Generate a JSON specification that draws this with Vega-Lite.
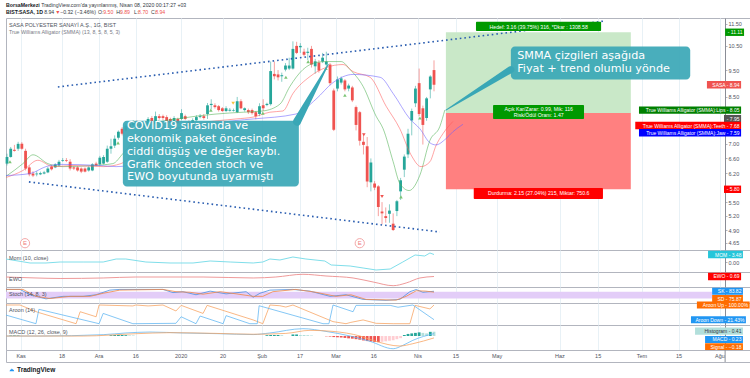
{"$schema":"https://vega.github.io/schema/vega-lite/v6.json","padding":{"left":3,"top":2,"right":0,"bottom":0},"background":"#ffffff","spacing":0,"bounds":"flush","config":{"font":"Liberation Sans","view":{"stroke":"#b2b5be","strokeWidth":1}},
"datasets":{"candles":[{"t":0,"o":6.45,"h":6.72,"l":6.4,"c":6.63},{"t":1,"o":6.63,"h":6.91,"l":6.61,"c":6.86},{"t":2,"o":6.83,"h":6.97,"l":6.78,"c":6.8},{"t":3,"o":6.86,"h":7.06,"l":6.8,"c":7},{"t":4,"o":7,"h":7.05,"l":6.83,"c":6.86},{"t":5,"o":6.8,"h":6.86,"l":6.27,"c":6.32},{"t":6,"o":6.35,"h":6.4,"l":6.12,"c":6.17},{"t":7,"o":6.19,"h":6.25,"l":6.1,"c":6.14},{"t":8,"o":6.17,"h":6.25,"l":6.12,"c":6.19},{"t":9,"o":6.17,"h":6.24,"l":6.15,"c":6.2},{"t":10,"o":6.19,"h":6.26,"l":6.17,"c":6.22},{"t":11,"o":6.22,"h":6.36,"l":6.2,"c":6.32},{"t":12,"o":6.37,"h":6.42,"l":6.27,"c":6.3},{"t":13,"o":6.35,"h":6.46,"l":6.33,"c":6.43},{"t":14,"o":6.4,"h":6.55,"l":6.38,"c":6.5},{"t":15,"o":6.52,"h":6.6,"l":6.5,"c":6.54},{"t":16,"o":6.54,"h":6.6,"l":6.49,"c":6.52},{"t":17,"o":6.5,"h":6.57,"l":6.27,"c":6.32},{"t":18,"o":6.35,"h":6.38,"l":6.28,"c":6.32},{"t":19,"o":6.35,"h":6.38,"l":6.24,"c":6.27},{"t":20,"o":6.32,"h":6.35,"l":6.2,"c":6.24},{"t":21,"o":6.32,"h":6.35,"l":6.22,"c":6.24},{"t":22,"o":6.27,"h":6.38,"l":6.24,"c":6.35},{"t":23,"o":6.27,"h":6.46,"l":6.25,"c":6.43},{"t":24,"o":6.45,"h":6.5,"l":6.38,"c":6.4},{"t":25,"o":6.43,"h":6.66,"l":6.4,"c":6.61},{"t":26,"o":6.45,"h":6.68,"l":6.43,"c":6.63},{"t":27,"o":6.5,"h":6.95,"l":6.47,"c":6.86},{"t":28,"o":6.86,"h":7.15,"l":6.72,"c":6.93},{"t":29,"o":6.95,"h":7.25,"l":6.88,"c":7.15},{"t":30,"o":7.18,"h":7.4,"l":7.12,"c":7.36},{"t":31,"o":7.45,"h":7.5,"l":7.25,"c":7.3},{"t":32,"o":7.4,"h":7.62,"l":7.36,"c":7.55},{"t":33,"o":7.6,"h":7.66,"l":7.44,"c":7.48},{"t":34,"o":7.56,"h":7.72,"l":7.52,"c":7.69},{"t":35,"o":7.66,"h":7.72,"l":7.5,"c":7.54},{"t":36,"o":7.6,"h":7.65,"l":7.42,"c":7.45},{"t":37,"o":7.51,"h":7.68,"l":7.48,"c":7.63},{"t":38,"o":7.54,"h":7.82,"l":7.5,"c":7.76},{"t":39,"o":7.79,"h":7.85,"l":7.6,"c":7.63},{"t":40,"o":7.6,"h":8,"l":7.57,"c":7.85},{"t":41,"o":7.85,"h":7.92,"l":7.74,"c":7.79},{"t":42,"o":7.85,"h":7.9,"l":7.72,"c":7.79},{"t":43,"o":7.82,"h":7.88,"l":7.58,"c":7.63},{"t":44,"o":7.76,"h":7.8,"l":7.6,"c":7.63},{"t":45,"o":7.69,"h":7.85,"l":7.65,"c":7.79},{"t":46,"o":7.76,"h":7.8,"l":7.6,"c":7.63},{"t":47,"o":7.76,"h":8.08,"l":7.72,"c":7.95},{"t":48,"o":7.85,"h":7.9,"l":7.72,"c":7.76},{"t":49,"o":7.66,"h":7.72,"l":7.48,"c":7.54},{"t":50,"o":7.6,"h":7.78,"l":7.55,"c":7.72},{"t":51,"o":7.72,"h":7.88,"l":7.68,"c":7.82},{"t":52,"o":7.82,"h":7.92,"l":7.78,"c":7.85},{"t":53,"o":7.85,"h":7.92,"l":7.74,"c":7.79},{"t":54,"o":7.92,"h":8.29,"l":7.76,"c":8.21},{"t":55,"o":8.22,"h":8.42,"l":8.08,"c":8.26},{"t":56,"o":8.21,"h":8.28,"l":8.1,"c":8.15},{"t":57,"o":8.18,"h":8.22,"l":8,"c":8.05},{"t":58,"o":8.11,"h":8.15,"l":7.98,"c":8.02},{"t":59,"o":8.02,"h":8.18,"l":7.98,"c":8.11},{"t":60,"o":8.03,"h":8.12,"l":8,"c":8.06},{"t":61,"o":8.03,"h":8.1,"l":8,"c":8.05},{"t":62,"o":7.98,"h":8.5,"l":7.95,"c":8.35},{"t":63,"o":8.35,"h":8.42,"l":8.08,"c":8.11},{"t":64,"o":8.05,"h":8.14,"l":8,"c":8.11},{"t":65,"o":8.05,"h":8.1,"l":7.92,"c":7.98},{"t":66,"o":8.05,"h":8.1,"l":7.9,"c":7.95},{"t":67,"o":7.98,"h":8.02,"l":7.75,"c":7.85},{"t":68,"o":7.92,"h":8.28,"l":7.85,"c":8.18},{"t":69,"o":8.21,"h":8.42,"l":8.02,"c":8.11},{"t":70,"o":8.22,"h":8.3,"l":8.18,"c":8.26},{"t":71,"o":8.25,"h":9.84,"l":8.2,"c":9.46},{"t":72,"o":9.35,"h":9.84,"l":9.14,"c":9.26},{"t":73,"o":9.33,"h":9.5,"l":9.1,"c":9.22},{"t":74,"o":9.26,"h":9.4,"l":9.05,"c":9.3},{"t":75,"o":9.52,"h":9.78,"l":9.45,"c":9.68},{"t":76,"o":9.56,"h":10,"l":9.5,"c":9.68},{"t":77,"o":9.56,"h":10.7,"l":9.52,"c":10.37},{"t":78,"o":10.5,"h":10.68,"l":10.15,"c":10.2},{"t":79,"o":10.44,"h":10.62,"l":10.2,"c":10.5},{"t":80,"o":10.25,"h":10.38,"l":10.05,"c":10.12},{"t":81,"o":10.2,"h":10.42,"l":9.9,"c":10.25},{"t":82,"o":10.37,"h":10.5,"l":9.6,"c":9.72},{"t":83,"o":9.65,"h":9.95,"l":9.36,"c":9.85},{"t":84,"o":9.8,"h":9.9,"l":9.4,"c":9.48},{"t":85,"o":9.84,"h":10.2,"l":9.78,"c":10},{"t":86,"o":9.72,"h":10.25,"l":9.62,"c":9.84},{"t":87,"o":9.72,"h":9.78,"l":8.92,"c":9},{"t":88,"o":8.73,"h":8.8,"l":7.38,"c":7.42},{"t":89,"o":8.8,"h":9.25,"l":8.7,"c":9.14},{"t":90,"o":9.02,"h":9.25,"l":8.95,"c":9.18},{"t":91,"o":9.1,"h":9.15,"l":8.7,"c":8.77},{"t":92,"o":8.8,"h":8.98,"l":8.7,"c":8.91},{"t":93,"o":8.84,"h":8.9,"l":8.32,"c":8.38},{"t":94,"o":8.15,"h":8.2,"l":7.4,"c":7.57},{"t":95,"o":7.98,"h":8.02,"l":6.95,"c":7.09},{"t":96,"o":7.06,"h":7.3,"l":6.7,"c":6.97},{"t":97,"o":6.93,"h":7.2,"l":5.85,"c":5.99},{"t":98,"o":5.97,"h":6.59,"l":5.75,"c":6.48},{"t":99,"o":5.94,"h":6,"l":5.78,"c":5.84},{"t":100,"o":5.87,"h":5.9,"l":5.19,"c":5.39},{"t":101,"o":5.29,"h":5.5,"l":5.02,"c":5.25},{"t":102,"o":5.19,"h":5.38,"l":5.05,"c":5.15},{"t":103,"o":5.24,"h":5.45,"l":5.05,"c":5.31},{"t":104,"o":5.03,"h":5.25,"l":4.88,"c":4.9},{"t":105,"o":5.3,"h":5.55,"l":5.19,"c":5.52},{"t":106,"o":5.75,"h":6.08,"l":5.55,"c":6.02},{"t":107,"o":6.29,"h":6.7,"l":6.1,"c":6.64},{"t":108,"o":6.7,"h":7.45,"l":6.6,"c":7.3},{"t":109,"o":7.71,"h":8.1,"l":7.25,"c":8.02},{"t":110,"o":8.28,"h":8.9,"l":8.15,"c":8.8},{"t":111,"o":9,"h":9.56,"l":7.85,"c":7.92},{"t":112,"o":8.11,"h":8.2,"l":6.98,"c":7.57},{"t":113,"o":7.79,"h":8.5,"l":7.7,"c":8.45},{"t":114,"o":8.77,"h":9.3,"l":8.45,"c":9.25},{"t":115,"o":9.5,"h":9.89,"l":8.7,"c":8.94}],
"alligator":[{"s":"Lips","t":-0.27,"p":6.12},{"s":"Lips","t":4.3,"p":6.45},{"s":"Lips","t":7,"p":6.69},{"s":"Lips","t":11,"p":6.45},{"s":"Lips","t":15.1,"p":6.37},{"s":"Lips","t":23.2,"p":6.4},{"s":"Lips","t":28.5,"p":6.45},{"s":"Lips","t":31.2,"p":6.72},{"s":"Lips","t":34.7,"p":7.15},{"s":"Lips","t":39.3,"p":7.6},{"s":"Lips","t":47.4,"p":7.79},{"s":"Lips","t":56.3,"p":7.92},{"s":"Lips","t":63.6,"p":7.98},{"s":"Lips","t":68.9,"p":8.02},{"s":"Lips","t":73.5,"p":8.25},{"s":"Lips","t":76.2,"p":8.88},{"s":"Lips","t":79.7,"p":9.52},{"s":"Lips","t":83.2,"p":9.8},{"s":"Lips","t":85.9,"p":9.84},{"s":"Lips","t":90,"p":9.84},{"s":"Lips","t":92.4,"p":9.52},{"s":"Lips","t":95.9,"p":8.88},{"s":"Lips","t":99.4,"p":7.85},{"s":"Lips","t":101.3,"p":7.45},{"s":"Lips","t":104,"p":6.5},{"s":"Lips","t":105.8,"p":5.94},{"s":"Lips","t":108.3,"p":5.77},{"s":"Lips","t":111.2,"p":6.15},{"s":"Lips","t":113.9,"p":7.1},{"s":"Lips","t":116.6,"p":7.53},{"s":"Lips","t":117.9,"p":8.05},
{"s":"Teeth","t":-0.27,"p":6.09},{"s":"Teeth","t":4.3,"p":6.27},{"s":"Teeth","t":8.3,"p":6.54},{"s":"Teeth","t":12.4,"p":6.37},{"s":"Teeth","t":17.8,"p":6.4},{"s":"Teeth","t":25.9,"p":6.37},{"s":"Teeth","t":30.7,"p":6.45},{"s":"Teeth","t":35.3,"p":6.86},{"s":"Teeth","t":42,"p":7.3},{"s":"Teeth","t":52.8,"p":7.64},{"s":"Teeth","t":61.7,"p":7.76},{"s":"Teeth","t":66.3,"p":7.82},{"s":"Teeth","t":70.8,"p":7.98},{"s":"Teeth","t":74.3,"p":8.02},{"s":"Teeth","t":77,"p":8.62},{"s":"Teeth","t":81.6,"p":9.25},{"s":"Teeth","t":85.9,"p":9.6},{"s":"Teeth","t":90.5,"p":9.72},{"s":"Teeth","t":93.2,"p":9.44},{"s":"Teeth","t":97.8,"p":9.22},{"s":"Teeth","t":102.1,"p":8.18},{"s":"Teeth","t":105.8,"p":7.45},{"s":"Teeth","t":108.8,"p":6.69},{"s":"Teeth","t":111.5,"p":6.37},{"s":"Teeth","t":113.9,"p":6.5},{"s":"Teeth","t":115.5,"p":6.94},{"s":"Teeth","t":117.4,"p":7.3},{"s":"Teeth","t":120.1,"p":7.68},
{"s":"Jaw","t":-0.27,"p":6.14},{"s":"Jaw","t":6.2,"p":6.19},{"s":"Jaw","t":10.5,"p":6.37},{"s":"Jaw","t":14.3,"p":6.43},{"s":"Jaw","t":25,"p":6.4},{"s":"Jaw","t":29.4,"p":6.37},{"s":"Jaw","t":32.6,"p":6.4},{"s":"Jaw","t":40.1,"p":7},{"s":"Jaw","t":45.5,"p":7.33},{"s":"Jaw","t":61.7,"p":7.71},{"s":"Jaw","t":66.3,"p":7.76},{"s":"Jaw","t":77.8,"p":7.92},{"s":"Jaw","t":83.2,"p":8.42},{"s":"Jaw","t":87.8,"p":9.02},{"s":"Jaw","t":93.2,"p":9.33},{"s":"Jaw","t":100.5,"p":9.22},{"s":"Jaw","t":104,"p":8.62},{"s":"Jaw","t":108.5,"p":7.76},{"s":"Jaw","t":111.2,"p":7.45},{"s":"Jaw","t":113.9,"p":7.03},{"s":"Jaw","t":115.5,"p":6.97},{"s":"Jaw","t":118.2,"p":7.15},{"s":"Jaw","t":120.1,"p":7.36},{"s":"Jaw","t":122.8,"p":7.59}]},
"vconcat":[
{"width":744,"height":232,"resolve":{"scale":{"color":"independent","size":"independent"}},
"encoding":{"x":{"field":"t","type":"quantitative","scale":{"domain":[-0.27,200.1],"nice":false,"zero":false,"padding":0},"axis":{"values":[3.8,14.8,24.8,34.7,46.9,58.2,68.7,78.9,88.6,98.8,110.7,120.9,132,148.9,159.2,171,181,192],"labels":false,"ticks":false,"domain":false,"title":null,"grid":true,"gridColor":"#e8f1f6"}},
"y":{"field":"p","type":"quantitative","scale":{"type":"log","domain":[4.511,11.785],"nice":false},"axis":{"orient":"right","offset":-25,"values":[4.65,4.9,5.2,5.5,6.2,6.6,7,8.5,9.5,10.5,11.5],"format":".2f","title":null,"grid":false,"labelFontSize":5.5,"labelColor":"#50535e","tickColor":"#b2b5be","tickSize":2,"labelPadding":1,"domainColor":"#8a8d96","labelOverlap":false}}},
"layer":[
{"data":{"values":[{"p":4.65},{"p":4.9},{"p":5.2},{"p":5.5},{"p":5.8},{"p":6.2},{"p":6.6},{"p":7},{"p":7.5},{"p":8},{"p":8.5},{"p":9.5},{"p":10.5},{"p":11.5}]},"mark":{"type":"rule","color":"#e8f1f6","strokeWidth":1},"encoding":{"x":{"datum":-0.27},"x2":{"datum":193.4}}},
{"data":{"values":[{"p":8.94}]},"mark":{"type":"rule","color":"#ef5350","strokeWidth":3,"opacity":0.13},"encoding":{"x":{"datum":-0.27},"x2":{"datum":188.5}}},
{"data":{"values":[{"zone":"Hedef","t":118.2,"t2":168,"p":11.11,"p2":7.95},{"zone":"Durdurma","t":118.2,"t2":168,"p":7.95,"p2":5.8}]},"mark":{"type":"rect"},"encoding":{"x2":{"field":"t2"},"y2":{"field":"p2"},"color":{"field":"zone","type":"nominal","scale":{"domain":["Hedef","Durdurma"],"range":["#c9e8c8","#ff8080"]},"legend":null}}},
{"data":{"name":"candles"},"mark":{"type":"rule","strokeWidth":1,"opacity":0.55},"encoding":{"y":{"field":"h","type":"quantitative","scale":{"type":"log","domain":[4.511,11.785],"nice":false},"axis":{"orient":"right","offset":-25,"values":[4.65,4.9,5.2,5.5,6.2,6.6,7,8.5,9.5,10.5,11.5],"format":".2f","title":null,"grid":false,"labelFontSize":5.5,"labelColor":"#50535e","tickColor":"#b2b5be","tickSize":2,"labelPadding":1,"domainColor":"#8a8d96","labelOverlap":false}},"y2":{"field":"l"},"color":{"condition":{"test":"datum.c>=datum.o","value":"#26a69a"},"value":"#ef5350"}}},
{"data":{"name":"candles"},"mark":{"type":"bar","size":2.8},"encoding":{"y":{"field":"o","type":"quantitative","scale":{"type":"log","domain":[4.511,11.785],"nice":false},"axis":{"orient":"right","offset":-25,"values":[4.65,4.9,5.2,5.5,6.2,6.6,7,8.5,9.5,10.5,11.5],"format":".2f","title":null,"grid":false,"labelFontSize":5.5,"labelColor":"#50535e","tickColor":"#b2b5be","tickSize":2,"labelPadding":1,"domainColor":"#8a8d96","labelOverlap":false}},"y2":{"field":"c"},"color":{"condition":{"test":"datum.c>=datum.o","value":"#26a69a"},"value":"#ef5350"}}},
{"data":{"name":"alligator"},"mark":{"type":"line","strokeWidth":1,"opacity":0.55,"interpolate":"monotone"},"encoding":{"color":{"field":"s","type":"nominal","scale":{"domain":["Lips","Teeth","Jaw"],"range":["#4caf50","#ff5a5a","#6a5cff"]},"legend":null}}},
{"data":{"values":[{"name":"ust","t":13.7,"p":8.86},{"name":"ust","t":161,"p":11.64}]},"mark":{"type":"line","color":"#2a5db0","strokeWidth":1.6,"strokeDash":[1.6,3]},"encoding":{"detail":{"field":"name"}}},
{"data":{"values":[{"name":"alt","t":5.9,"p":5.98},{"name":"alt","t":116.6,"p":4.86}]},"mark":{"type":"line","color":"#2a5db0","strokeWidth":1.6,"strokeDash":[1.6,3]},"encoding":{"detail":{"field":"name"}}},
{"data":{"values":[{"kind":"up","t":0.8,"p":6.5},{"kind":"up","t":29.9,"p":7.03},{"kind":"up","t":40.9,"p":7.67},{"kind":"up","t":54.9,"p":8.05},{"kind":"up","t":68.9,"p":7.95},{"kind":"up","t":75.1,"p":9.22},{"kind":"up","t":81.1,"p":9.84},{"kind":"up","t":85.9,"p":9.56},{"kind":"up","t":91,"p":8.56},{"kind":"up","t":111.2,"p":7.79},{"kind":"up","t":106.1,"p":5.62}]},"mark":{"type":"point","shape":"triangle-up","filled":true,"size":13,"color":"#7cc576","opacity":1}},
{"data":{"values":[{"t":60.9,"p":8.28}]},"mark":{"type":"point","shape":"triangle-down","filled":true,"size":13,"color":"#f5c542","opacity":1}},
{"data":{"values":[{"t":96.1,"p":7.27},{"t":101,"p":5.63}]},"mark":{"type":"point","shape":"triangle-down","filled":true,"size":13,"color":"#ef5350","opacity":1}},
{"data":{"values":[{"t":4.85,"p":4.64},{"t":95,"p":4.64}]},"mark":{"type":"point","shape":"circle","filled":true,"size":85,"fill":"#ffffff","stroke":"#f4a9a9","strokeWidth":1,"opacity":1}},
{"data":{"values":[{"t":4.85,"p":4.64,"label":"E"},{"t":95,"p":4.64,"label":"E"}]},"mark":{"type":"text","fontSize":6,"color":"#ef7d7d"},"encoding":{"text":{"field":"label"}}},
{"data":{"values":[{"name":"a","t":78.1,"p":7.67,"w":8},{"name":"a","t":86.5,"p":9.72,"w":1}]},"mark":{"type":"trail","color":"#39a7b6"},"encoding":{"detail":{"field":"name"},"size":{"field":"w","type":"quantitative","scale":{"domain":[0,8],"range":[0,8]},"legend":null}}},
{"data":{"values":[{"name":"b","t":135.7,"p":9.52,"w":7},{"name":"b","t":118.2,"p":8.05,"w":1}]},"mark":{"type":"trail","color":"#39a7b6"},"encoding":{"detail":{"field":"name"},"size":{"field":"w","type":"quantitative","scale":{"domain":[0,8],"range":[0,8]},"legend":null}}},
{"data":{"values":[{"t":31.2,"t2":78.6,"p":7.7,"p2":5.87},{"t":135.7,"t2":184,"p":10.47,"p2":9.14}]},"mark":{"type":"rect","color":"#39a7b6","opacity":0.92,"cornerRadius":4},"encoding":{"x2":{"field":"t2"},"y2":{"field":"p2"}}},
{"data":{"values":[{"t":32.3,"p":7.54,"label":"COVID19 sırasında ve"},{"t":32.3,"p":7.15,"label":"ekonomik paket öncesinde"},{"t":32.3,"p":6.78,"label":"ciddi düşüş ve değer kaybı."},{"t":32.3,"p":6.42,"label":"Grafik önceden stoch ve"},{"t":32.3,"p":6.09,"label":"EWO boyutunda uyarmıştı"},{"t":137.4,"p":10.05,"label":"SMMA çizgileri aşağıda"},{"t":137.4,"p":9.55,"label":"Fiyat + trend olumlu yönde"}]},"mark":{"type":"text","font":"DejaVu Sans","fontSize":11.2,"align":"left","color":"#ffffff"},"encoding":{"text":{"field":"label"}}},
{"data":{"values":[{"label":"Hedef","t":126.3,"t2":160,"p":11.6,"p2":11.17},{"label":"Kar","t":130.9,"t2":155.4,"p":8.22,"p2":7.76},{"label":"Durdurma","t":125.7,"t2":160.5,"p":5.83,"p2":5.57}]},"mark":{"type":"rect","cornerRadius":1},"encoding":{"x2":{"field":"t2"},"y2":{"field":"p2"},"color":{"field":"label","type":"nominal","scale":{"domain":["Hedef","Kar","Durdurma"],"range":["#009900","#009900","#ff0000"]},"legend":null}}},
{"data":{"values":[{"t":143.2,"p":11.36,"label":"Hedef: 3.16 (39.75%) 316, *Dkar : 1308.58"},{"t":143.2,"p":8.08,"label":"Açık Kar/Zarar: 0.99, Mik: 116"},{"t":143.2,"p":7.88,"label":"Risk/Ödül Oranı: 1.47"},{"t":143.2,"p":5.71,"label":"Durdurma: 2.15 (27.04%) 215, Miktar: 750.6"}]},"mark":{"type":"text","fontSize":5.2,"color":"#ffffff"},"encoding":{"text":{"field":"label"}}},
{"data":{"values":[{"label":"SASA","t":188.5,"t2":197.7,"p":8.94},{"label":"Hedef","t":193.4,"t2":198.5,"p":11.11},{"label":"Lips","t":170.2,"t2":197.7,"p":8.05},{"label":"Son","t":193.1,"t2":197.7,"p":7.77},{"label":"Teeth","t":169.2,"t2":197.7,"p":7.55},{"label":"Jaw","t":170.2,"t2":197.7,"p":7.33},{"label":"Stop","t":193.1,"t2":197.7,"p":5.8}]},"mark":{"type":"rect","height":7.4},"encoding":{"x2":{"field":"t2"},"color":{"field":"label","type":"nominal","scale":{"domain":["SASA","Hedef","Lips","Son","Teeth","Jaw","Stop"],"range":["#ef5350","#009900","#008000","#555555","#ff0000","#0000ff","#ff0000"]},"legend":null}}},
{"data":{"values":[{"t2":197.7,"p":8.94,"text":"SASA - 8.94"},{"t2":198.5,"p":11.11,"text":"- 11.11"},{"t2":197.7,"p":8.05,"text":"True Williams Alligator (SMMA):Lips - 8.05"},{"t2":197.7,"p":7.77,"text":"- 7.95"},{"t2":197.7,"p":7.55,"text":"True Williams Alligator (SMMA):Teeth - 7.68"},{"t2":197.7,"p":7.33,"text":"True Williams Alligator (SMMA):Jaw - 7.59"},{"t2":197.7,"p":5.8,"text":"- 5.80"}]},"mark":{"type":"text","fontSize":5,"align":"right","dx":-1.5,"color":"#ffffff"},"encoding":{"x":{"field":"t2","type":"quantitative"},"text":{"field":"text"}}},
{"data":{"values":[{"t":0.54,"p":11.45,"label":"SASA POLYESTER SANAYİ A.Ş., 1G, BIST"}]},"mark":{"type":"text","fontSize":5.5,"align":"left","color":"#50535e"},"encoding":{"text":{"field":"label"}}},
{"data":{"values":[{"t":0.54,"p":11.1,"label":"True Williams Alligator (SMMA) (13, 8, 5, 8, 5, 3)"}]},"mark":{"type":"text","fontSize":5.2,"align":"left","color":"#787b86"},"encoding":{"text":{"field":"label"}}},
{"data":{"values":[{"t":-0.27,"p":12.44,"label":"BorsaMerkezi"},{"t":-0.27,"p":12.09,"label":"BIST:SASA, 1D"}]},"mark":{"type":"text","fontSize":5.2,"fontWeight":"bold","align":"left","color":"#131722"},"encoding":{"text":{"field":"label"}}},
{"data":{"values":[{"tone":"koyu","t":9.2,"p":12.44,"label":"TradingView.com'da yayınlanmış, Nisan 08, 2020 00:17:27 +03"},{"tone":"koyu","t":10,"p":12.09,"label":"8.94"},{"tone":"kirmizi","t":13,"p":12.09,"label":"▼"},{"tone":"koyu","t":14.3,"p":12.09,"label":"−0.32 (−3.46%)"},{"tone":"koyu","t":24.5,"p":12.09,"label":"O:"},{"tone":"kirmizi","t":25.9,"p":12.09,"label":"9.50"},{"tone":"koyu","t":29.4,"p":12.09,"label":"H:"},{"tone":"kirmizi","t":30.4,"p":12.09,"label":"9.89"},{"tone":"koyu","t":34.2,"p":12.09,"label":"L:"},{"tone":"kirmizi","t":35.3,"p":12.09,"label":"8.70"},{"tone":"koyu","t":38.8,"p":12.09,"label":"C:"},{"tone":"kirmizi","t":39.9,"p":12.09,"label":"8.94"}]},"mark":{"type":"text","fontSize":5.2,"align":"left"},"encoding":{"text":{"field":"label"},"color":{"field":"tone","type":"nominal","scale":{"domain":["koyu","kirmizi"],"range":["#333842","#ef5350"]},"legend":null}}}
]},
{"width":744,"height":22,"resolve":{"scale":{"color":"independent"}},
"encoding":{"x":{"field":"t","type":"quantitative","scale":{"domain":[-0.27,200.1],"nice":false,"zero":false,"padding":0},"axis":{"values":[3.8,14.8,24.8,34.7,46.9,58.2,68.7,78.9,88.6,98.8,110.7,120.9,132,148.9,159.2,171,181,192],"labels":false,"ticks":false,"domain":false,"title":null,"grid":true,"gridColor":"#e8f1f6"}},
"y":{"field":"v","type":"quantitative","scale":{"domain":[-4.64,5.57],"nice":false,"zero":false},"axis":{"orient":"right","offset":-25,"values":[0],"format":".2f","title":null,"grid":false,"labelFontSize":5.5,"labelColor":"#50535e","tickColor":"#b2b5be","tickSize":2,"labelPadding":1,"domainColor":"#8a8d96"}}},
"layer":[
{"data":{"values":[{"t":-0.27,"v":1.39},{"t":6.2,"v":-0.46},{"t":10.5,"v":-0.46},{"t":14.3,"v":0},{"t":20.5,"v":0},{"t":25.9,"v":0},{"t":29.4,"v":1.39},{"t":32,"v":1.39},{"t":37.4,"v":0},{"t":43.9,"v":-0.46},{"t":50.1,"v":-0.46},{"t":54.7,"v":0.46},{"t":60.1,"v":0},{"t":66.3,"v":-0.46},{"t":68.9,"v":0},{"t":70.8,"v":1.39},{"t":73.5,"v":0.93},{"t":77,"v":2.32},{"t":80.5,"v":1.39},{"t":85.6,"v":0.46},{"t":87.3,"v":-1.39},{"t":92.4,"v":-1.86},{"t":95.9,"v":-2.78},{"t":99.4,"v":-3.71},{"t":103.2,"v":-3.25},{"t":106.6,"v":0},{"t":109.9,"v":3.25},{"t":112.5,"v":2.78},{"t":113.9,"v":4.18},{"t":115,"v":3.48}]},"mark":{"type":"line","color":"#80deea","strokeWidth":1}},
{"data":{"values":[{"label":"MOM","t":188.8,"t2":198.2,"v":3.48}]},"mark":{"type":"rect","height":7.4,"color":"#26c6da"},"encoding":{"x2":{"field":"t2"}}},
{"data":{"values":[{"t2":198.2,"v":3.48,"text":"MOM - 3.48"}]},"mark":{"type":"text","fontSize":5,"align":"right","dx":-1.5,"color":"#ffffff"},"encoding":{"x":{"field":"t2","type":"quantitative"},"text":{"field":"text"}}},
{"data":{"values":[{"t":0.54,"v":2,"label":"Mom (10, close)"}]},"mark":{"type":"text","fontSize":5.5,"align":"left","color":"#50535e"},"encoding":{"text":{"field":"label"}}}
]},
{"width":744,"height":15,"resolve":{"scale":{"color":"independent"}},
"encoding":{"x":{"field":"t","type":"quantitative","scale":{"domain":[-0.27,200.1],"nice":false,"zero":false,"padding":0},"axis":{"values":[3.8,14.8,24.8,34.7,46.9,58.2,68.7,78.9,88.6,98.8,110.7,120.9,132,148.9,159.2,171,181,192],"labels":false,"ticks":false,"domain":false,"title":null,"grid":true,"gridColor":"#e8f1f6"}},
"y":{"field":"v","type":"quantitative","scale":{"domain":[-2.21,1.93],"nice":false,"zero":false},"axis":{"orient":"right","offset":-25,"values":[],"labels":false,"ticks":false,"title":null,"grid":false,"domainColor":"#8a8d96"}}},
"layer":[
{"data":{"values":[{"t":-0.27,"v":0.55},{"t":7.8,"v":0.28},{"t":14.3,"v":0.14},{"t":25.9,"v":0.28},{"t":34.7,"v":0.55},{"t":52.8,"v":0.55},{"t":66.3,"v":0.28},{"t":72.4,"v":0.55},{"t":79.7,"v":1.3},{"t":85.9,"v":0.83},{"t":93.2,"v":0.28},{"t":98.6,"v":-0.83},{"t":104,"v":-1.85},{"t":107.5,"v":-1.1},{"t":111.2,"v":0.28},{"t":115,"v":0.69}]},"mark":{"type":"line","color":"#ef9a9a","strokeWidth":1,"interpolate":"monotone"}},
{"data":{"values":[{"label":"EWO","t":188.8,"t2":197.7,"v":0.69}]},"mark":{"type":"rect","height":7.4,"color":"#ff0000"},"encoding":{"x2":{"field":"t2"}}},
{"data":{"values":[{"t2":197.7,"v":0.69,"text":"EWO - 0.69"}]},"mark":{"type":"text","fontSize":5,"align":"right","dx":-1.5,"color":"#ffffff"},"encoding":{"x":{"field":"t2","type":"quantitative"},"text":{"field":"text"}}},
{"data":{"values":[{"t":0.54,"v":-0.08,"label":"EWO"}]},"mark":{"type":"text","fontSize":5.5,"align":"left","color":"#50535e"},"encoding":{"text":{"field":"label"}}}
]},
{"width":744,"height":16,"resolve":{"scale":{"color":"independent"}},
"encoding":{"x":{"field":"t","type":"quantitative","scale":{"domain":[-0.27,200.1],"nice":false,"zero":false,"padding":0},"axis":{"values":[3.8,14.8,24.8,34.7,46.9,58.2,68.7,78.9,88.6,98.8,110.7,120.9,132,148.9,159.2,171,181,192],"labels":false,"ticks":false,"domain":false,"title":null,"grid":true,"gridColor":"#e8f1f6"}},
"y":{"field":"v","type":"quantitative","scale":{"domain":[-19.7,121.5],"nice":false,"zero":false},"axis":{"orient":"right","offset":-25,"values":[],"labels":false,"ticks":false,"title":null,"grid":false,"domainColor":"#8a8d96"}}},
"layer":[
{"data":{"values":[{"t":-0.27,"t2":189.9,"v":80,"v2":20}]},"mark":{"type":"rect","color":"#e3cdf8"},"encoding":{"x2":{"field":"t2"},"y2":{"field":"v2"}}},
{"data":{"values":[{"v":80},{"v":20}]},"mark":{"type":"rule","color":"#787b86","strokeWidth":0.7,"strokeDash":[2,2]},"encoding":{"x":{"datum":-0.27},"x2":{"datum":189.9}}},
{"data":{"values":[{"s":"K","t":-0.27,"v":100},{"s":"K","t":3.5,"v":100},{"s":"K","t":6.2,"v":53},{"s":"K","t":10.5,"v":17},{"s":"K","t":15.1,"v":39},{"s":"K","t":20.5,"v":39},{"s":"K","t":24,"v":53},{"s":"K","t":27.7,"v":94},{"s":"K","t":30.4,"v":100},{"s":"K","t":42,"v":100},{"s":"K","t":44.7,"v":72},{"s":"K","t":47.4,"v":80},{"s":"K","t":50.9,"v":53},{"s":"K","t":54.7,"v":85},{"s":"K","t":59,"v":61},{"s":"K","t":64.4,"v":80},{"s":"K","t":66.3,"v":31},{"s":"K","t":68.1,"v":66},{"s":"K","t":70.8,"v":94},{"s":"K","t":77,"v":100},{"s":"K","t":81.6,"v":85},{"s":"K","t":87,"v":39},{"s":"K","t":91.3,"v":53},{"s":"K","t":95.9,"v":12},{"s":"K","t":102.1,"v":4},{"s":"K","t":105.8,"v":12},{"s":"K","t":108.5,"v":80},{"s":"K","t":110.2,"v":99},{"s":"K","t":112,"v":75},{"s":"K","t":115,"v":83.82},
{"s":"D","t":-0.27,"v":100},{"s":"D","t":4.3,"v":100},{"s":"D","t":7.8,"v":39},{"s":"D","t":11.6,"v":20},{"s":"D","t":17,"v":39},{"s":"D","t":22.4,"v":39},{"s":"D","t":25.9,"v":66},{"s":"D","t":30.4,"v":94},{"s":"D","t":42,"v":100},{"s":"D","t":45.5,"v":80},{"s":"D","t":49.3,"v":75},{"s":"D","t":52.8,"v":58},{"s":"D","t":57.4,"v":80},{"s":"D","t":61.7,"v":61},{"s":"D","t":66.3,"v":39},{"s":"D","t":68.9,"v":39},{"s":"D","t":71.6,"v":80},{"s":"D","t":77.8,"v":100},{"s":"D","t":83.2,"v":75},{"s":"D","t":88.6,"v":39},{"s":"D","t":92.6,"v":53},{"s":"D","t":96.7,"v":12},{"s":"D","t":104.8,"v":6},{"s":"D","t":107.5,"v":39},{"s":"D","t":110.2,"v":88},{"s":"D","t":112.8,"v":85},{"s":"D","t":115,"v":75.87}]},"mark":{"type":"line","strokeWidth":0.9,"opacity":0.9},"encoding":{"color":{"field":"s","type":"nominal","scale":{"domain":["K","D"],"range":["#4a8fe0","#f0884a"]},"legend":null}}},
{"data":{"values":[{"label":"SK","t":189.9,"t2":198.2,"v":83.82},{"label":"SD","t":189.9,"t2":198.2,"v":20}]},"mark":{"type":"rect","height":7},"encoding":{"x2":{"field":"t2"},"color":{"field":"label","type":"nominal","scale":{"domain":["SK","SD"],"range":["#2196f3","#ff6d00"]},"legend":null}}},
{"data":{"values":[{"t2":198.2,"v":83.82,"text":"SK - 83.82"},{"t2":198.2,"v":20,"text":"SD - 75.87"}]},"mark":{"type":"text","fontSize":5,"align":"right","dx":-1.5,"color":"#ffffff"},"encoding":{"x":{"field":"t2","type":"quantitative"},"text":{"field":"text"}}},
{"data":{"values":[{"t":0.54,"v":57,"label":"Stoch (14, 8, 3)"}]},"mark":{"type":"text","fontSize":5.5,"align":"left","color":"#50535e"},"encoding":{"text":{"field":"label"}}}
]},
{"width":744,"height":22,"resolve":{"scale":{"color":"independent"}},
"encoding":{"x":{"field":"t","type":"quantitative","scale":{"domain":[-0.27,200.1],"nice":false,"zero":false,"padding":0},"axis":{"values":[3.8,14.8,24.8,34.7,46.9,58.2,68.7,78.9,88.6,98.8,110.7,120.9,132,148.9,159.2,171,181,192],"labels":false,"ticks":false,"domain":false,"title":null,"grid":true,"gridColor":"#e8f1f6"}},
"y":{"field":"v","type":"quantitative","scale":{"domain":[-7,110.7],"nice":false,"zero":false},"axis":{"orient":"right","offset":-25,"values":[],"labels":false,"ticks":false,"title":null,"grid":false,"domainColor":"#8a8d96"}}},
"layer":[
{"data":{"values":[{"s":"Up","t":-0.27,"v":100},{"s":"Up","t":3.5,"v":100},{"s":"Up","t":8.3,"v":61},{"s":"Up","t":18.6,"v":0},{"s":"Up","t":19.7,"v":64},{"s":"Up","t":24,"v":37},{"s":"Up","t":24.8,"v":100},{"s":"Up","t":33.9,"v":95},{"s":"Up","t":34.7,"v":100},{"s":"Up","t":38,"v":95},{"s":"Up","t":42,"v":100},{"s":"Up","t":45.5,"v":68},{"s":"Up","t":46.9,"v":98},{"s":"Up","t":52.8,"v":55},{"s":"Up","t":53.9,"v":98},{"s":"Up","t":66.3,"v":20},{"s":"Up","t":68.9,"v":0},{"s":"Up","t":70.8,"v":100},{"s":"Up","t":73.5,"v":96},{"s":"Up","t":75.1,"v":89},{"s":"Up","t":77,"v":100},{"s":"Up","t":87.8,"v":11},{"s":"Up","t":91.3,"v":0},{"s":"Up","t":92.6,"v":7},{"s":"Up","t":95.9,"v":20},{"s":"Up","t":99.4,"v":2},{"s":"Up","t":104,"v":0},{"s":"Up","t":108.5,"v":0},{"s":"Up","t":109.9,"v":98},{"s":"Up","t":113.9,"v":79},{"s":"Up","t":115,"v":100},
{"s":"Down","t":-0.27,"v":46},{"s":"Down","t":7.8,"v":0},{"s":"Down","t":8.6,"v":77},{"s":"Down","t":24.8,"v":0},{"s":"Down","t":25.9,"v":55},{"s":"Down","t":33.9,"v":0},{"s":"Down","t":45.5,"v":2},{"s":"Down","t":46.9,"v":37},{"s":"Down","t":50.9,"v":0},{"s":"Down","t":52,"v":41},{"s":"Down","t":58.2,"v":0},{"s":"Down","t":59,"v":43},{"s":"Down","t":65.4,"v":0},{"s":"Down","t":67.4,"v":0},{"s":"Down","t":67.9,"v":96},{"s":"Down","t":85.1,"v":0},{"s":"Down","t":86.7,"v":0},{"s":"Down","t":87.8,"v":100},{"s":"Down","t":93.2,"v":64},{"s":"Down","t":94,"v":98},{"s":"Down","t":103.2,"v":98},{"s":"Down","t":105.3,"v":88},{"s":"Down","t":109.3,"v":100},{"s":"Down","t":115,"v":21.43}]},"mark":{"type":"line","strokeWidth":0.9,"opacity":0.85},"encoding":{"color":{"field":"s","type":"nominal","scale":{"domain":["Up","Down"],"range":["#f7a25e","#5fb6f2"]},"legend":null}}},
{"data":{"values":[{"label":"Aroon Up","t":185.8,"t2":200,"v":100},{"label":"Aroon Down","t":184.2,"t2":199,"v":21.43}]},"mark":{"type":"rect","height":7},"encoding":{"x2":{"field":"t2"},"color":{"field":"label","type":"nominal","scale":{"domain":["Aroon Up","Aroon Down"],"range":["#ff6d00","#2196f3"]},"legend":null}}},
{"data":{"values":[{"t2":200,"v":100,"text":"Aroon Up - 100.00%"},{"t2":199,"v":21.43,"text":"Aroon Down - 21.43%"}]},"mark":{"type":"text","fontSize":5,"align":"right","dx":-1.5,"color":"#ffffff"},"encoding":{"x":{"field":"t2","type":"quantitative"},"text":{"field":"text"}}},
{"data":{"values":[{"t":0.54,"v":73,"label":"Aroon (14)"}]},"mark":{"type":"text","fontSize":5.5,"align":"left","color":"#50535e"},"encoding":{"text":{"field":"label"}}}
]},
{"width":744,"height":25,"resolve":{"scale":{"color":"independent"}},
"encoding":{"x":{"field":"t","type":"quantitative","scale":{"domain":[-0.27,200.1],"nice":false,"zero":false,"padding":0},"axis":{"values":[3.8,14.8,24.8,34.7,46.9,58.2,68.7,78.9,88.6,98.8,110.7,120.9,132,148.9,159.2,171,181,192],"labels":false,"ticks":false,"domain":false,"title":null,"grid":true,"gridColor":"#e8f1f6"}},
"y":{"field":"v","type":"quantitative","scale":{"domain":[-1.33,1.05],"nice":false,"zero":false},"axis":{"orient":"right","offset":-25,"values":[],"labels":false,"ticks":false,"title":null,"grid":false,"domainColor":"#8a8d96"}}},
"layer":[
{"data":{"values":[{"t":1,"v":0.05,"phase":"a"},{"t":2,"v":0.06,"phase":"a"},{"t":3,"v":0.05,"phase":"a"},{"t":28,"v":0.08,"phase":"a"},{"t":29,"v":0.1,"phase":"a"},{"t":30,"v":0.1,"phase":"a"},{"t":31,"v":0.1,"phase":"a"},{"t":32,"v":0.08,"phase":"a"},{"t":33,"v":0.06,"phase":"b"},{"t":34,"v":0.05,"phase":"b"},{"t":70,"v":0.08,"phase":"a"},{"t":71,"v":0.1,"phase":"a"},{"t":72,"v":0.1,"phase":"a"},{"t":73,"v":0.1,"phase":"a"},{"t":74,"v":0.08,"phase":"b"},{"t":77,"v":0.15,"phase":"a"},{"t":78,"v":0.15,"phase":"a"},{"t":79,"v":0.1,"phase":"b"},{"t":80,"v":0.1,"phase":"b"},{"t":81,"v":0.08,"phase":"b"},{"t":82,"v":0.05,"phase":"b"},{"t":86,"v":-0.03,"phase":"c"},{"t":87,"v":-0.05,"phase":"c"},{"t":88,"v":-0.1,"phase":"c"},{"t":89,"v":-0.12,"phase":"c"},{"t":90,"v":-0.14,"phase":"c"},{"t":91,"v":-0.18,"phase":"c"},{"t":92,"v":-0.22,"phase":"c"},{"t":93,"v":-0.25,"phase":"c"},{"t":94,"v":-0.3,"phase":"c"},{"t":95,"v":-0.35,"phase":"c"},{"t":96,"v":-0.42,"phase":"c"},{"t":97,"v":-0.48,"phase":"c"},{"t":98,"v":-0.52,"phase":"c"},{"t":99,"v":-0.56,"phase":"c"},{"t":100,"v":-0.58,"phase":"c"},{"t":101,"v":-0.55,"phase":"d"},{"t":102,"v":-0.5,"phase":"d"},{"t":103,"v":-0.45,"phase":"d"},{"t":104,"v":-0.4,"phase":"d"},{"t":105,"v":-0.3,"phase":"d"},{"t":106,"v":-0.2,"phase":"d"},{"t":107,"v":0.1,"phase":"a"},{"t":108,"v":0.2,"phase":"a"},{"t":109,"v":0.25,"phase":"a"},{"t":110,"v":0.3,"phase":"a"},{"t":111,"v":0.35,"phase":"a"},{"t":112,"v":0.3,"phase":"b"},{"t":113,"v":0.25,"phase":"b"},{"t":114,"v":0.4,"phase":"a"},{"t":115,"v":0.41,"phase":"b"}]},"mark":{"type":"bar","size":2.8},"encoding":{"y2":{"datum":0},"color":{"field":"phase","type":"nominal","scale":{"domain":["a","b","c","d"],"range":["#26a69a","#b2dfdb","#ef5350","#ffcdd2"]},"legend":null}}},
{"data":{"values":[{"s":"MACD","t":-0.27,"v":0},{"s":"MACD","t":8.9,"v":0},{"s":"MACD","t":25.9,"v":0.13},{"s":"MACD","t":32,"v":0.29},{"s":"MACD","t":38.5,"v":0.38},{"s":"MACD","t":47.4,"v":0.29},{"s":"MACD","t":57.4,"v":0.22},{"s":"MACD","t":66.3,"v":0.14},{"s":"MACD","t":70.8,"v":0.29},{"s":"MACD","t":79.7,"v":0.7},{"s":"MACD","t":85.9,"v":0.44},{"s":"MACD","t":92.4,"v":0},{"s":"MACD","t":97.8,"v":-0.51},{"s":"MACD","t":104,"v":-1.21},{"s":"MACD","t":106.6,"v":-0.89},{"s":"MACD","t":109.3,"v":-0.41},{"s":"MACD","t":115,"v":0.23},
{"s":"Signal","t":-0.27,"v":0},{"s":"Signal","t":20.5,"v":0},{"s":"Signal","t":34.7,"v":0.22},{"s":"Signal","t":43.9,"v":0.32},{"s":"Signal","t":56.3,"v":0.25},{"s":"Signal","t":66.3,"v":0.17},{"s":"Signal","t":75.1,"v":0.25},{"s":"Signal","t":81.6,"v":0.54},{"s":"Signal","t":87.8,"v":0.44},{"s":"Signal","t":95.1,"v":0},{"s":"Signal","t":99.4,"v":-0.51},{"s":"Signal","t":105.8,"v":-0.95},{"s":"Signal","t":109.3,"v":-0.73},{"s":"Signal","t":115,"v":-0.18}]},"mark":{"type":"line","strokeWidth":0.9,"opacity":0.85,"interpolate":"monotone"},"encoding":{"color":{"field":"s","type":"nominal","scale":{"domain":["MACD","Signal"],"range":["#5fb6f2","#f7a25e"]},"legend":null}}},
{"data":{"values":[{"label":"Histogram","t":185.3,"t2":198.2,"v":0.476},{"label":"MACD","t":188,"t2":198.2,"v":-0.33},{"label":"Signal","t":188,"t2":198.2,"v":-1.02}]},"mark":{"type":"rect","height":7.2},"encoding":{"x2":{"field":"t2"},"color":{"field":"label","type":"nominal","scale":{"domain":["Histogram","MACD","Signal"],"range":["#b2dfdb","#2196f3","#ff6d00"]},"legend":null}}},
{"data":{"values":[{"t2":198.2,"v":0.476,"text":"Histogram - 0.41","label":"Histogram"},{"t2":198.2,"v":-0.33,"text":"MACD - 0.23","label":"MACD"},{"t2":198.2,"v":-1.02,"text":"Signal - −0.18","label":"Signal"}]},"mark":{"type":"text","fontSize":5,"align":"right","dx":-1.5},"encoding":{"x":{"field":"t2","type":"quantitative"},"text":{"field":"text"},"color":{"condition":{"test":"datum.label==='Histogram'","value":"#333842"},"value":"#ffffff"}}},
{"data":{"values":[{"t":0.54,"v":0.35,"label":"MACD (12, 26, close, 9)"}]},"mark":{"type":"text","fontSize":5.5,"align":"left","color":"#50535e"},"encoding":{"text":{"field":"label"}}}
]},
{"width":744,"height":12,
"encoding":{"x":{"field":"t","type":"quantitative","scale":{"domain":[-0.27,200.1],"nice":false,"zero":false,"padding":0},"axis":null},
"y":{"field":"v","type":"quantitative","scale":{"domain":[0,1],"nice":false,"zero":false},"axis":null}},
"layer":[
{"data":{"values":[{"t":3.8,"v":0.5,"label":"Kas"},{"t":14.8,"v":0.5,"label":"18"},{"t":24.8,"v":0.5,"label":"Ara"},{"t":34.7,"v":0.5,"label":"16"},{"t":46.9,"v":0.5,"label":"2020"},{"t":58.2,"v":0.5,"label":"20"},{"t":68.7,"v":0.5,"label":"Şub"},{"t":78.9,"v":0.5,"label":"17"},{"t":88.6,"v":0.5,"label":"Mar"},{"t":98.8,"v":0.5,"label":"16"},{"t":110.7,"v":0.5,"label":"Nis"},{"t":120.9,"v":0.5,"label":"15"},{"t":132,"v":0.5,"label":"May"},{"t":148.9,"v":0.5,"label":"Haz"},{"t":159.2,"v":0.5,"label":"15"},{"t":171,"v":0.5,"label":"Tem"},{"t":181,"v":0.5,"label":"15"},{"t":192,"v":0.5,"label":"Ağu"}]},"mark":{"type":"text","fontSize":5.5,"color":"#50535e"},"encoding":{"text":{"field":"label"}}},
{"data":{"values":[{"t":193.4,"v":0},{"t":193.4,"v":1}]},"mark":{"type":"line","color":"#8a8d96","strokeWidth":1}},
{"data":{"values":[{"t":1.3,"v":-0.667}]},"mark":{"type":"point","filled":true,"opacity":1,"color":"#2196f3","size":22,"shape":"M-1,0.5 L-0.7,-0.1 L-0.3,-0.2 L0,-0.6 L0.4,-0.2 L0.8,0 L1,0.5 Z"}},
{"data":{"values":[{"t":2.7,"v":-0.667,"label":"TradingView"}]},"mark":{"type":"text","fontSize":6.5,"fontWeight":"bold","align":"left","color":"#131722"},"encoding":{"text":{"field":"label"}}}
]}
]}
